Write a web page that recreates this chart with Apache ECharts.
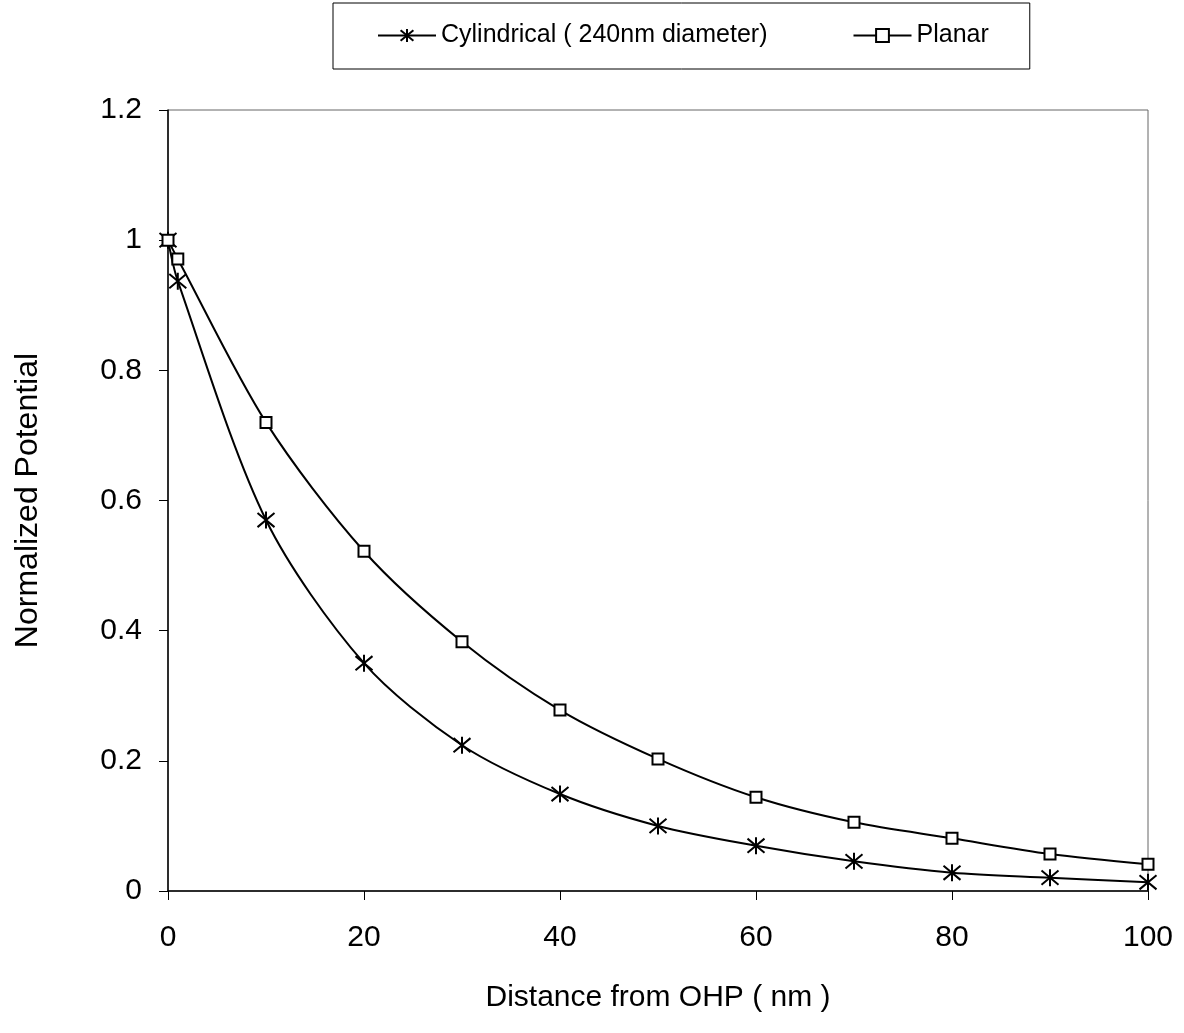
<!DOCTYPE html>
<html>
<head>
<meta charset="utf-8">
<script src="https://cdn.jsdelivr.net/npm/echarts@6/dist/echarts.min.js"></script>
<style>
  html, body { margin: 0; padding: 0; background: #fff; }
  #chart { width: 1184px; height: 1033px; }
</style>
</head>
<body>
<div id="chart"></div>
<script>
var distances = [0, 1, 10, 20, 30, 40, 50, 60, 70, 80, 90, 100];
var cylindrical = [1.0, 0.937, 0.570, 0.350, 0.224, 0.149, 0.100, 0.0696, 0.0456, 0.028, 0.0205, 0.0134];
var planar = [1.0, 0.971, 0.720, 0.522, 0.383, 0.278, 0.203, 0.144, 0.1055, 0.081, 0.0568, 0.041];
var seriesNames = ['Cylindrical ( 240nm diameter)', 'Planar'];

function pairs(xs, ys) {
    return xs.map(function (x, i) { return [x, ys[i]]; });
}

var chartDom = document.getElementById('chart');
var myChart = echarts.init(chartDom);
var fontFamily = '"Liberation Sans", Arial, sans-serif';
// asterisk marker: X plus vertical stroke
var star = 'path://M0,0L10,10M10,0L0,10M5,-1L5,11';

var option = {
    backgroundColor: '#fff',
    animation: false,
    textStyle: { fontFamily: fontFamily, color: '#000' },
    legend: {
        left: 333,
        top: 3,
        padding: [20, 41, 21, 44],
        itemGap: 85,
        itemWidth: 58,
        itemHeight: 16,
        borderColor: '#000',
        borderWidth: 1,
        borderRadius: 0,
        textStyle: { fontSize: 25, color: '#000', fontFamily: fontFamily },
        data: seriesNames
    },
    grid: {
        left: 168,
        right: 36,
        top: 110,
        bottom: 142,
        show: true,
        borderColor: '#666',
        borderWidth: 1
    },
    xAxis: {
        type: 'value',
        min: 0,
        max: 100,
        interval: 20,
        name: 'Distance from OHP ( nm )',
        nameLocation: 'middle',
        nameGap: 92,
        nameTextStyle: { fontSize: 30, color: '#000' },
        axisLine: { lineStyle: { color: '#000', width: 1.5 } },
        axisTick: { inside: false, length: 9, lineStyle: { color: '#000' } },
        axisLabel: { fontSize: 30, color: '#000', margin: 32 },
        splitLine: { show: false }
    },
    yAxis: {
        type: 'value',
        min: 0,
        max: 1.2,
        interval: 0.2,
        name: 'Normalized Potential',
        nameLocation: 'middle',
        nameGap: 124,
        nameTextStyle: { fontSize: 32, color: '#000' },
        axisLine: { show: true, lineStyle: { color: '#000', width: 1.5 } },
        axisTick: { show: true, inside: false, length: 9, lineStyle: { color: '#000' } },
        axisLabel: { fontSize: 30, color: '#000', margin: 26 },
        splitLine: { show: false }
    },
    series: [
        {
            name: seriesNames[0],
            type: 'line',
            smooth: 0.3,
            data: pairs(distances, cylindrical),
            symbol: star,
            symbolSize: 17,
            lineStyle: { color: '#000', width: 2 },
            itemStyle: { color: '#000', borderColor: '#000', borderWidth: 2 }
        },
        {
            name: seriesNames[1],
            type: 'line',
            smooth: 0.3,
            data: pairs(distances, planar),
            symbol: 'rect',
            symbolSize: 11,
            lineStyle: { color: '#000', width: 2 },
            itemStyle: { color: '#fff', borderColor: '#000', borderWidth: 2 }
        }
    ]
};

option && myChart.setOption(option);
</script>
</body>
</html>
